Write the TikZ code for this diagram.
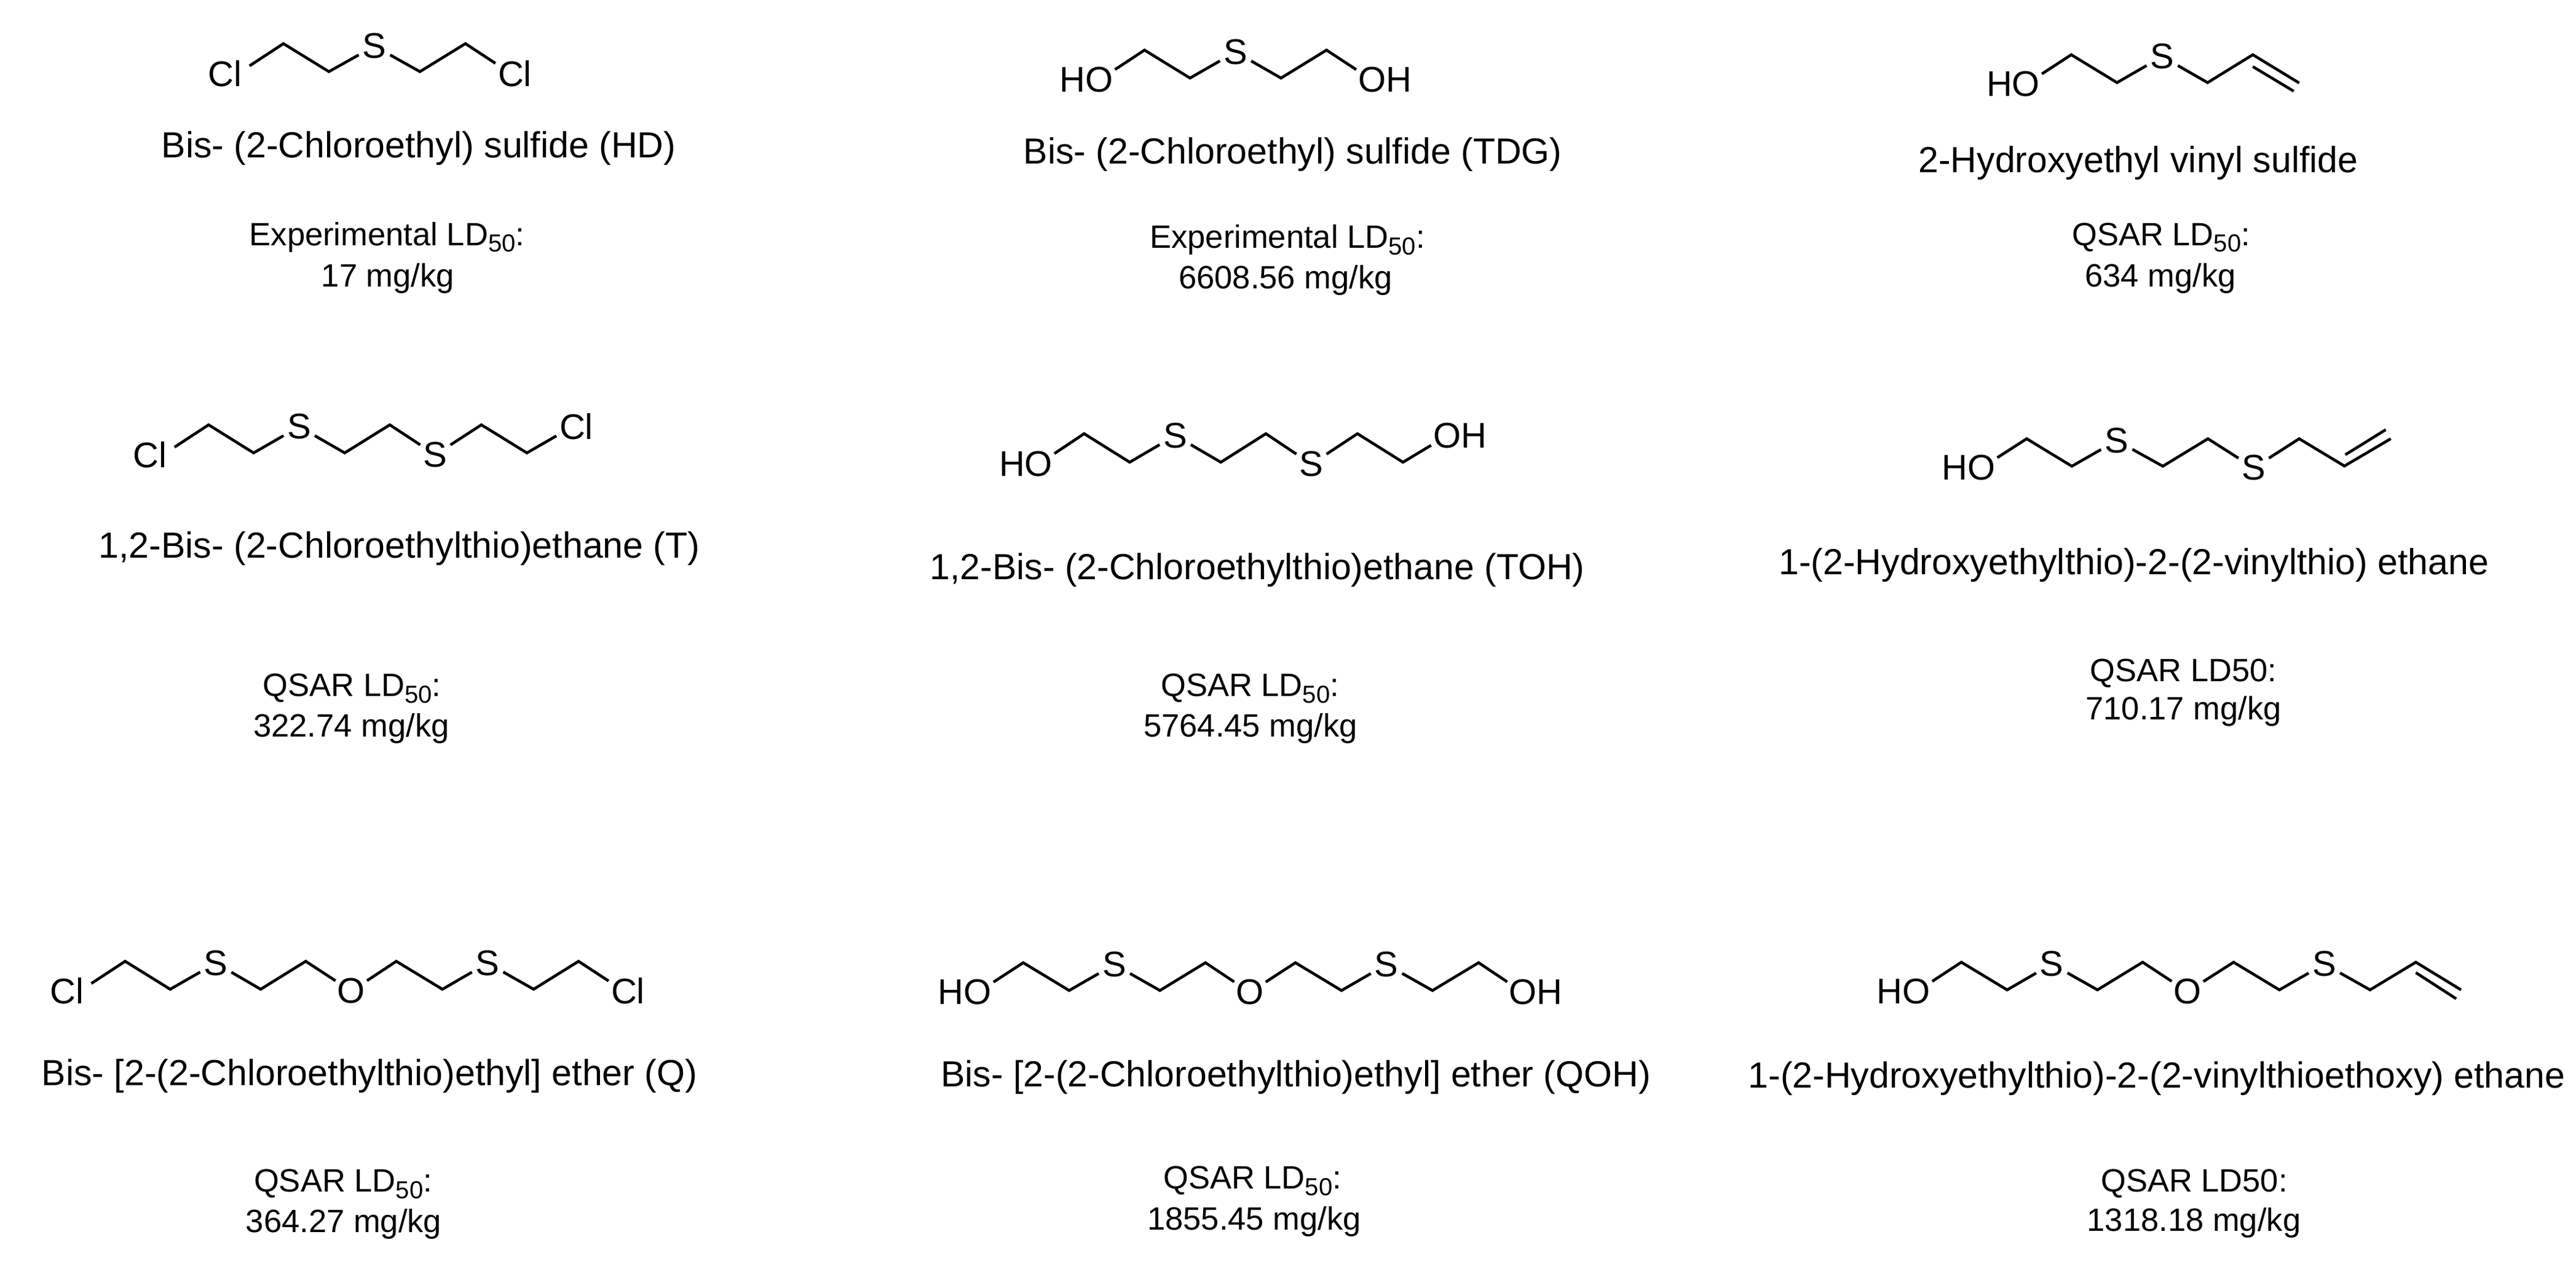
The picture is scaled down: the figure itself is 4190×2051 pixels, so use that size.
\documentclass[tikz,border=0pt]{standalone}
\usepackage{fontspec}
\setmainfont{Liberation Sans}
\newcommand{\pxfont}[1]{\fontsize{#1}{#1}\selectfont}
\newcommand{\LDsub}{LD\raisebox{-6.2pt}{\pxfont{22.8pt}50}:}
\tikzset{
  x=0.02cm,y=-0.02cm,
  bond/.style={draw=black,line width=2.6pt,line join=miter},
  atom/.style={circle,inner sep=0pt,minimum size=33pt,font=\pxfont{33pt},text=black},
  atomn/.style={circle,inner sep=0pt,minimum size=20pt,font=\pxfont{33pt},text=black},
  cname/.style={anchor=base,inner sep=0pt,font=\pxfont{33.6pt},text=black},
  ldtext/.style={anchor=base,inner sep=0pt,font=\pxfont{29.9pt},text=black},
}
\begin{document}
\begin{tikzpicture}
\path[use as bounding box,fill=white] (0,0) rectangle (4190,2051);

% --- Molecule 1: HD
\node[atomn] (a1) at (387,119.5) {\llap{C}l};
\coordinate (a2) at (461,71);
\coordinate (a3) at (535,116.5);
\node[atom] (a4) at (609,75) {S};
\coordinate (a5) at (683,116.5);
\coordinate (a6) at (757,71);
\node[atom] (a7) at (831,119.5) {C\rlap{l}};
\draw[bond] (a1)--(a2)--(a3)--(a4);
\draw[bond] (a4)--(a5)--(a6)--(a7);
\node[cname] (an) at (681,256) {Bis- (2-Chloroethyl) sulfide (HD)};
\node[ldtext] (al) at (629.5,399) {Experimental \LDsub};
\node[ldtext] (av) at (631,466) {17 mg/kg};

% --- Molecule 2: TDG
\node[atom] (b1) at (1788,130) {\llap{H}O};
\coordinate (b2) at (1861.6,81.5);
\coordinate (b3) at (1935.6,127);
\node[atom] (b4) at (2009.6,84.5) {S};
\coordinate (b5) at (2083.6,127);
\coordinate (b6) at (2157.6,81.5);
\node[atom] (b7) at (2231.6,130) {O\rlap{H}};
\draw[bond] (b1)--(b2)--(b3)--(b4);
\draw[bond] (b4)--(b5)--(b6)--(b7);
\node[cname] (bn) at (2102.7,266) {Bis- (2-Chloroethyl) sulfide (TDG)};
\node[ldtext] (bl) at (2094,403.3) {Experimental \LDsub};
\node[ldtext] (bv) at (2091,469.5) {6608.56 mg/kg};

% --- Molecule 3: vinyl sulfide
\node[atom] (c1) at (3295.5,137) {\llap{H}O};
\coordinate (c2) at (3369,89);
\coordinate (c3) at (3443.4,134.4);
\node[atom] (c4) at (3516.9,92) {S};
\coordinate (c5) at (3590.7,134.4);
\coordinate (c6) at (3664.3,89);
\coordinate (c7) at (3739.7,135);
\coordinate (c8) at (3664.3,108.4);
\coordinate (c9) at (3730.8,148.3);
\draw[bond] (c1)--(c2)--(c3)--(c4);
\draw[bond] (c4)--(c5)--(c6)--(c7);
\draw[bond] (c8)--(c9);
\node[cname] (cn) at (3478,280.5) {2-Hydroxyethyl vinyl sulfide};
\node[ldtext] (cl) at (3515,399) {QSAR \LDsub};
\node[ldtext] (cv) at (3514,466) {634 mg/kg};

% --- Molecule 4: T
\node[atomn] (d1) at (265,739.6) {\llap{C}l};
\coordinate (d2) at (339.3,691);
\coordinate (d3) at (412.5,736.6);
\node[atom] (d4) at (486.6,694) {S};
\coordinate (d5) at (560.7,736.6);
\coordinate (d6) at (634,691);
\node[atom] (d7) at (708,739.6) {S};
\coordinate (d8) at (783,691);
\coordinate (d9) at (857,736.6);
\node[atom] (d10) at (931,694) {C\rlap{l}};
\draw[bond] (d1)--(d2)--(d3)--(d4);
\draw[bond] (d4)--(d5)--(d6)--(d7);
\draw[bond] (d7)--(d8)--(d9)--(d10);
\node[cname] (dn) at (649.6,907.5) {1,2-Bis- (2-Chloroethylthio)ethane (T)};
\node[ldtext] (dl) at (572.5,1132.5) {QSAR \LDsub};
\node[ldtext] (dv) at (571.5,1198) {322.74 mg/kg};

% --- Molecule 5: TOH
\node[atom] (e1) at (1689.4,754.8) {\llap{H}O};
\coordinate (e2) at (1763.4,705.4);
\coordinate (e3) at (1837.5,751.8);
\node[atom] (e4) at (1911.5,708.4) {S};
\coordinate (e5) at (1985.7,751.8);
\coordinate (e6) at (2059,705.4);
\node[atom] (e7) at (2133,754.8) {S};
\coordinate (e8) at (2208,705.4);
\coordinate (e9) at (2282,751.8);
\node[atom] (e10) at (2354,708.4) {O\rlap{H}};
\draw[bond] (e1)--(e2)--(e3)--(e4);
\draw[bond] (e4)--(e5)--(e6)--(e7);
\draw[bond] (e7)--(e8)--(e9)--(e10);
\node[cname] (en) at (2045,942) {1,2-Bis- (2-Chloroethylthio)ethane (TOH)};
\node[ldtext] (el) at (2033,1132.5) {QSAR \LDsub};
\node[ldtext] (ev) at (2034,1198) {5764.45 mg/kg};

% --- Molecule 6
\node[atom] (f1) at (3222.8,761) {\llap{H}O};
\coordinate (f2) at (3296.5,713.6);
\coordinate (f3) at (3369.9,758.3);
\node[atom] (f4) at (3442.9,716.6) {S};
\coordinate (f5) at (3517.9,758.3);
\coordinate (f6) at (3591.3,713.6);
\node[atom] (f7) at (3665.8,761) {S};
\coordinate (f8) at (3739.7,713.6);
\coordinate (f9) at (3813.3,758);
\coordinate (f10) at (3888.6,713.6);
\coordinate (f11) at (3814.7,739.6);
\coordinate (f12) at (3880.5,698.9);
\draw[bond] (f1)--(f2)--(f3)--(f4);
\draw[bond] (f4)--(f5)--(f6)--(f7);
\draw[bond] (f7)--(f8)--(f9)--(f10);
\draw[bond] (f11)--(f12);
\node[cname] (fn) at (3470.7,934.5) {1-(2-Hydroxyethylthio)-2-(2-vinylthio) ethane};
\node[ldtext] (fl) at (3551.6,1108) {QSAR LD50:};
\node[ldtext] (fv) at (3551.6,1170) {710.17 mg/kg};

% --- Molecule 7: Q
\node[atomn] (g1) at (129.6,1612) {\llap{C}l};
\coordinate (g2) at (203.6,1563.5);
\coordinate (g3) at (276.8,1609);
\node[atom] (g4) at (351,1566.5) {S};
\coordinate (g5) at (424,1609);
\coordinate (g6) at (497.3,1563.5);
\node[atom] (g7) at (571.4,1612) {O};
\coordinate (g8) at (644.6,1563.5);
\coordinate (g9) at (719.6,1609);
\node[atom] (g10) at (793,1566.5) {S};
\coordinate (g11) at (868,1609);
\coordinate (g12) at (941,1563.5);
\node[atom] (g13) at (1015,1612) {C\rlap{l}};
\draw[bond] (g1)--(g2)--(g3)--(g4);
\draw[bond] (g4)--(g5)--(g6)--(g7);
\draw[bond] (g7)--(g8)--(g9)--(g10);
\draw[bond] (g10)--(g11)--(g12)--(g13);
\node[cname] (gn) at (601,1765) {Bis- [2-(2-Chloroethylthio)ethyl] ether (Q)};
\node[ldtext] (gl) at (558,1938.7) {QSAR \LDsub};
\node[ldtext] (gv) at (559,2004) {364.27 mg/kg};

% --- Molecule 8: QOH
\node[atom] (h1) at (1590.3,1614) {\llap{H}O};
\coordinate (h2) at (1664.3,1565.8);
\coordinate (h3) at (1739,1611);
\node[atom] (h4) at (1812.5,1568.8) {S};
\coordinate (h5) at (1886.6,1611);
\coordinate (h6) at (1960.7,1565.8);
\node[atom] (h7) at (2033,1614) {O};
\coordinate (h8) at (2107,1565.8);
\coordinate (h9) at (2182,1611);
\node[atom] (h10) at (2255,1568.8) {S};
\coordinate (h11) at (2330,1611);
\coordinate (h12) at (2405,1565.8);
\node[atom] (h13) at (2477,1614) {O\rlap{H}};
\draw[bond] (h1)--(h2)--(h3)--(h4);
\draw[bond] (h4)--(h5)--(h6)--(h7);
\draw[bond] (h7)--(h8)--(h9)--(h10);
\draw[bond] (h10)--(h11)--(h12)--(h13);
\node[cname] (hn) at (2107.5,1767) {Bis- [2-(2-Chloroethylthio)ethyl] ether (QOH)};
\node[ldtext] (hl) at (2037,1933.7) {QSAR \LDsub};
\node[ldtext] (hv) at (2040,2000) {1855.45 mg/kg};

% --- Molecule 9
\node[atom] (i1) at (3117.2,1613) {\llap{H}O};
\coordinate (i2) at (3190.2,1565);
\coordinate (i3) at (3264.7,1610);
\node[atom] (i4) at (3337.2,1568) {S};
\coordinate (i5) at (3411.6,1610);
\coordinate (i6) at (3485.1,1565);
\node[atom] (i7) at (3558,1613) {O};
\coordinate (i8) at (3633,1565);
\coordinate (i9) at (3707.5,1610);
\node[atom] (i10) at (3780.5,1568) {S};
\coordinate (i11) at (3855,1610);
\coordinate (i12) at (3929.4,1565);
\coordinate (i13) at (4003,1610);
\coordinate (i14) at (3929.4,1582);
\coordinate (i15) at (3995.1,1624.4);
\draw[bond] (i1)--(i2)--(i3)--(i4);
\draw[bond] (i4)--(i5)--(i6)--(i7);
\draw[bond] (i7)--(i8)--(i9)--(i10);
\draw[bond] (i10)--(i11)--(i12)--(i13);
\draw[bond] (i14)--(i15);
\node[cname] (in) at (3508,1769) {1-(2-Hydroxyethylthio)-2-(2-vinylthioethoxy) ethane};
\node[ldtext] (il) at (3569,1938) {QSAR LD50:};
\node[ldtext] (iv) at (3568.5,2002) {1318.18 mg/kg};
\end{tikzpicture}
\end{document}
